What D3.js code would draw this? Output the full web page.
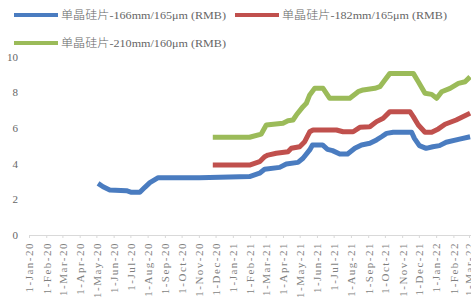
<!DOCTYPE html>
<html>
<head>
<meta charset="utf-8">
<script src="https://cdn.jsdelivr.net/npm/d3@7"></script>
<style>
  body { margin: 0; background: #fff; }
  svg { display: block; }
</style>
</head>
<body>
<div id="container"></div>
<script>
/* CONSTANTS AND GLOBALS */
const width = 471,
  height = 298;

// series names (legend)
const seriesNames = [
  "单晶硅片-166mm/165μm (RMB)",
  "单晶硅片-182mm/165μm (RMB)",
  "单晶硅片-210mm/160μm (RMB)"
];
const seriesColors = ["#4a7cc0", "#c0504d", "#9bbb59"];

// y tick labels
const yTicks = [0, 2, 4, 6, 8, 10];

// 单晶硅片-166mm/165μm
const wafer166 = [
  ["2020-05-04", 2.90], ["2020-05-13", 2.71], ["2020-05-25", 2.53], ["2020-06-24", 2.49],
  ["2020-07-03", 2.40], ["2020-07-18", 2.40], ["2020-07-27", 2.68], ["2020-08-05", 2.94],
  ["2020-08-20", 3.22], ["2020-11-02", 3.22], ["2021-01-31", 3.28], ["2021-02-18", 3.47],
  ["2021-02-27", 3.69], ["2021-03-26", 3.80], ["2021-04-07", 3.99], ["2021-04-28", 4.08],
  ["2021-05-07", 4.31], ["2021-05-19", 4.78], ["2021-05-24", 5.06], ["2021-06-11", 5.06],
  ["2021-06-20", 4.81], ["2021-06-29", 4.74], ["2021-07-12", 4.55], ["2021-07-26", 4.55],
  ["2021-08-08", 4.87], ["2021-08-20", 5.06], ["2021-09-04", 5.15], ["2021-09-16", 5.34],
  ["2021-09-25", 5.52], ["2021-10-04", 5.71], ["2021-10-16", 5.77], ["2021-11-18", 5.77],
  ["2021-11-23", 5.43], ["2021-12-02", 5.02], ["2021-12-14", 4.87], ["2021-12-26", 4.96],
  ["2022-01-07", 5.02], ["2022-01-19", 5.21], ["2022-02-12", 5.39], ["2022-03-03", 5.52]
];

// 单晶硅片-182mm/165μm
const wafer182 = [
  ["2020-11-26", 3.93], ["2021-01-31", 3.93], ["2021-02-18", 4.12], ["2021-02-27", 4.40],
  ["2021-03-05", 4.49], ["2021-03-20", 4.59], ["2021-04-10", 4.68], ["2021-04-16", 4.87],
  ["2021-05-01", 4.96], ["2021-05-10", 5.24], ["2021-05-19", 5.80], ["2021-05-25", 5.90],
  ["2021-07-06", 5.90], ["2021-07-18", 5.80], ["2021-08-05", 5.80], ["2021-08-17", 6.05],
  ["2021-09-04", 6.08], ["2021-09-16", 6.37], ["2021-09-28", 6.56], ["2021-10-10", 6.93],
  ["2021-11-15", 6.93], ["2021-11-21", 6.65], ["2021-11-30", 6.18], ["2021-12-12", 5.77],
  ["2021-12-24", 5.77], ["2022-01-05", 5.96], ["2022-01-17", 6.22], ["2022-02-06", 6.46],
  ["2022-03-03", 6.84]
];

// 单晶硅片-210mm/160μm
const wafer210 = [
  ["2020-11-26", 5.49], ["2021-01-31", 5.49], ["2021-02-21", 5.67], ["2021-03-02", 6.18],
  ["2021-04-01", 6.28], ["2021-04-10", 6.42], ["2021-04-19", 6.46], ["2021-04-25", 6.74],
  ["2021-05-07", 7.21], ["2021-05-13", 7.40], ["2021-05-19", 7.87], ["2021-05-28", 8.24],
  ["2021-06-12", 8.24], ["2021-06-24", 7.68], ["2021-07-30", 7.68], ["2021-08-14", 8.05],
  ["2021-08-23", 8.15], ["2021-09-13", 8.24], ["2021-09-22", 8.33], ["2021-10-01", 8.71],
  ["2021-10-10", 9.08], ["2021-11-21", 9.08], ["2021-11-30", 8.61], ["2021-12-12", 7.96],
  ["2021-12-24", 7.90], ["2022-01-02", 7.68], ["2022-01-11", 8.05], ["2022-01-26", 8.24],
  ["2022-02-10", 8.52], ["2022-02-22", 8.61], ["2022-03-03", 8.89]
];

const parseDate = d3.timeParse("%Y-%m-%d");
const series = [wafer166, wafer182, wafer210].map(s =>
  s.map(([d, v]) => ({ date: parseDate(d), value: v })));

// SCALES
const xScale = d3.scaleTime()
  .domain([new Date(2020, 0, 1), new Date(2022, 2, 10)])
  .range([29, 474]);

const yScale = d3.scaleLinear()
  .domain([0, 10])
  .range([235, 57]);

// CREATE SVG ELEMENT
const svg = d3.select("#container")
  .append("svg")
  .attr("width", width)
  .attr("height", height);

// Y LABELS (no axis line)
svg.append("g")
  .selectAll("text")
  .data(yTicks)
  .join("text")
  .attr("x", 18)
  .attr("y", d => yScale(d))
  .attr("dy", "0.35em")
  .attr("text-anchor", "end")
  .attr("fill", "#666")
  .style("font", "11px 'Liberation Serif'")
  .text(d => d);

// X AXIS
const xAxis = d3.axisBottom(xScale)
  .ticks(d3.timeMonth.every(1))
  .tickFormat(d3.timeFormat("%-d-%b-%y"))
  .tickSize(3)
  .tickSizeOuter(0);

const gx = svg.append("g")
  .attr("transform", `translate(0, ${yScale(0)})`)
  .call(xAxis);

gx.select(".domain").attr("stroke", "#d9d9d9");
gx.selectAll(".tick line").attr("stroke", "#d9d9d9");
gx.selectAll(".tick text")
  .attr("fill", "#7f7f7f")
  .attr("transform", "rotate(-90)")
  .attr("text-anchor", "end")
  .attr("x", -7)
  .attr("y", 0)
  .attr("dy", "0.35em")
  .style("font", "11px 'Liberation Serif'")
  .style("letter-spacing", "1.5px");

// LINE GENERATOR FUNCTION
const lineGen = d3.line()
  .x(d => xScale(d.date))
  .y(d => yScale(d.value));

// DRAW LINES
svg.selectAll("path.line")
  .data(series)
  .join("path")
  .attr("class", "line")
  .attr("fill", "none")
  .attr("stroke", (d, i) => seriesColors[i])
  .attr("stroke-width", 5)
  .attr("stroke-linejoin", "round")
  .attr("d", d => lineGen(d));

// LEGEND
const legendPos = [[14, 15], [235, 15], [14, 43]];
const legend = svg.append("g")
  .selectAll("g")
  .data(seriesNames)
  .join("g")
  .attr("transform", (d, i) => `translate(${legendPos[i][0]}, ${legendPos[i][1]})`);

legend.append("line")
  .attr("x1", 0)
  .attr("x2", 44)
  .attr("stroke", (d, i) => seriesColors[i])
  .attr("stroke-width", 4);

legend.append("text")
  .attr("x", 47)
  .attr("dy", "0.35em")
  .attr("fill", "#666")
  .attr("textLength", 165)
  .attr("lengthAdjust", "spacingAndGlyphs")
  .style("font", "300 11px 'Liberation Serif', 'Noto Sans CJK SC'")
  .text(d => d);
</script>
</body>
</html>
